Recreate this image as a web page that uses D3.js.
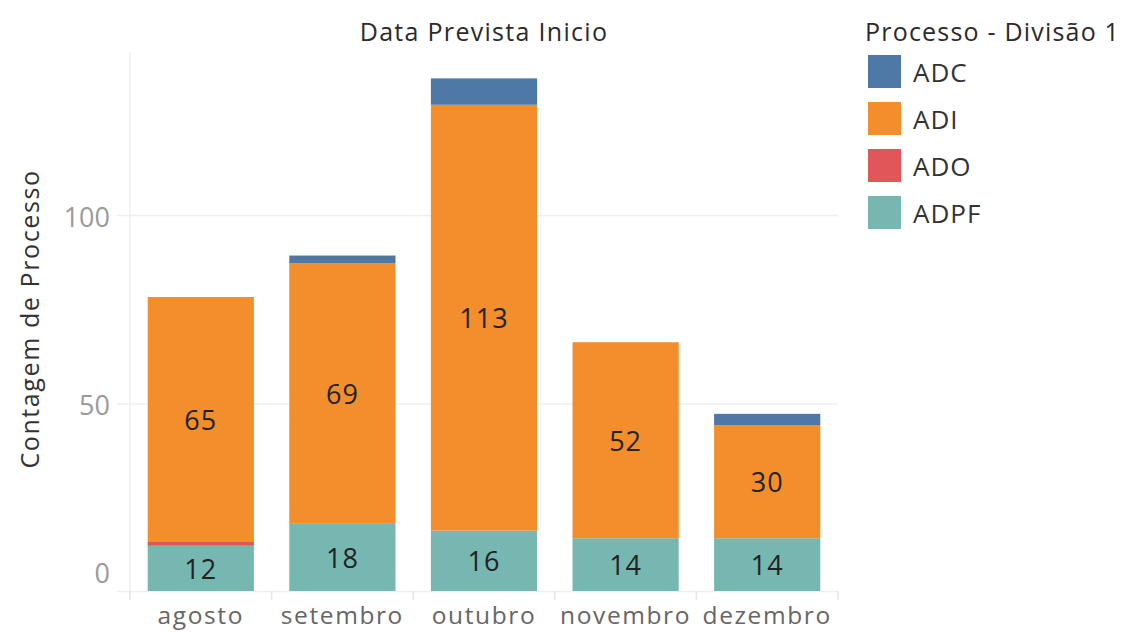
<!DOCTYPE html>
<html><head><meta charset="utf-8">
<script src="https://cdn.jsdelivr.net/npm/d3@7"></script>
<style>
body{margin:0;background:#fff;}
text{font-family:"Open Sans",sans-serif;}
</style></head>
<body><svg id="c" width="1130" height="632"></svg>
<script>
const months = ["agosto","setembro","outubro","novembro","dezembro"];
const seriesNames = ["ADPF","ADO","ADI","ADC"];
const legendOrder = ["ADC","ADI","ADO","ADPF"];
const ADPF = [12,18,16,14,14];
const ADO = [1,0,0,0,0];
const ADI = [65,69,113,52,30];
const ADC = [0,2,7,0,3];
const yTicks = [0,50,100];
const colors = {ADC:"#4e79a7",ADI:"#f28e2b",ADO:"#e15759",ADPF:"#76b7b2"};
const labeled = ["ADPF","ADI"];

const vals = {ADPF, ADO, ADI, ADC};
const rows = months.map((m,i)=>{const r={month:m}; seriesNames.forEach(s=>r[s]=vals[s][i]); return r;});
const stack = d3.stack().keys(seriesNames)(rows);

const svg = d3.select("#c");
const x = d3.scaleBand().domain(months).range([130,838]).paddingInner(0.25).paddingOuter(0.125);
const y = d3.scaleLinear().domain([0,143]).range([591,52]);

// gridlines
svg.append("g").selectAll("line").data(yTicks.filter(t=>t>0)).join("line")
  .attr("x1",117).attr("x2",838).attr("y1",d=>y(d)+1.5).attr("y2",d=>y(d)+1.5)
  .attr("stroke","#efefef").attr("stroke-width",1.5);
// y-axis vertical line
svg.append("line").attr("x1",130).attr("x2",130).attr("y1",52).attr("y2",600).attr("stroke","#efefef").attr("stroke-width",1.5);
// baseline
svg.append("line").attr("x1",117).attr("x2",838).attr("y1",y(0)+0.5).attr("y2",y(0)+0.5).attr("stroke","#efefef").attr("stroke-width",1.5);
// x ticks at band boundaries
svg.append("g").selectAll("line").data(d3.range(months.length+1)).join("line")
  .attr("x1",i=>x.range()[0]+i*x.step()).attr("x2",i=>x.range()[0]+i*x.step())
  .attr("y1",591).attr("y2",600).attr("stroke","#e6e6e6").attr("stroke-width",1.5);

// bars
stack.forEach(layer=>{
  svg.append("g").selectAll("rect").data(layer.filter(d=>d[1]-d[0]>0)).join("rect")
    .attr("x",d=>x(d.data.month)).attr("width",x.bandwidth())
    .attr("y",d=>y(d[1])).attr("height",d=>y(d[0])-y(d[1]))
    .attr("fill",colors[layer.key]);
});
// labels
stack.filter(l=>labeled.includes(l.key)).forEach(layer=>{
  svg.append("g").selectAll("text").data(layer.filter(d=>d[1]-d[0]>0)).join("text")
    .attr("x",d=>x(d.data.month)+x.bandwidth()/2)
    .attr("y",d=>(y(d[0])+y(d[1]))/2)
    .attr("text-anchor","middle").attr("dominant-baseline","central")
    .attr("font-size",27).attr("letter-spacing",1).attr("fill","#222")
    .text(d=>d[1]-d[0]);
});

// y tick labels
svg.append("g").selectAll("text").data(yTicks).join("text")
  .attr("x",110).attr("y",d=>d===0?572:y(d)+2)
  .attr("text-anchor","end").attr("dominant-baseline","central")
  .attr("font-size",27).attr("fill","#9a9a9a").text(d=>d);

// x labels
svg.append("g").selectAll("text").data(months).join("text")
  .attr("x",d=>x(d)+x.bandwidth()/2).attr("y",614)
  .attr("text-anchor","middle").attr("dominant-baseline","central")
  .attr("font-size",24.5).attr("letter-spacing",1.6).attr("fill","#666").text(d=>d);

// title
svg.append("text").attr("x",484).attr("y",31).attr("text-anchor","middle").attr("dominant-baseline","central")
  .attr("font-size",25).attr("letter-spacing",1.3).attr("fill","#2b2b2b").text("Data Prevista Inicio");
// y title
svg.append("text").attr("transform","translate(29,319) rotate(-90)").attr("text-anchor","middle").attr("dominant-baseline","central")
  .attr("font-size",25).attr("letter-spacing",1.6).attr("fill","#333").text("Contagem de Processo");

// legend
svg.append("text").attr("x",865).attr("y",31).attr("dominant-baseline","central")
  .attr("font-size",25).attr("letter-spacing",1.2).attr("fill","#2b2b2b").text("Processo - Divisão 1");
const lg = svg.append("g").selectAll("g").data(legendOrder).join("g")
  .attr("transform",(d,i)=>`translate(868,${55+i*47})`);
lg.append("rect").attr("width",33).attr("height",33).attr("fill",d=>colors[d]);
lg.append("text").attr("x",45).attr("y",17).attr("dominant-baseline","central")
  .attr("font-size",26).attr("letter-spacing",1).attr("fill","#333").text(d=>d);
</script></body></html>
